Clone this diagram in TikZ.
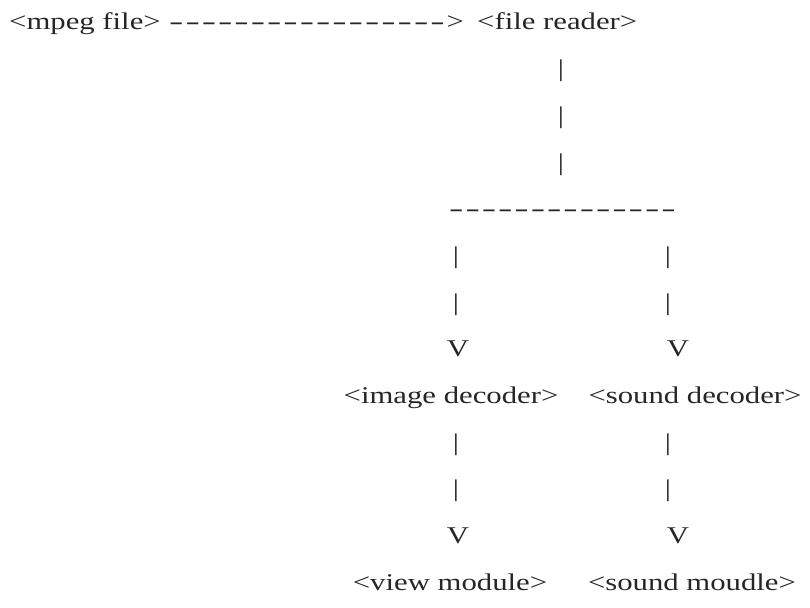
\documentclass[tikz,border=0pt]{standalone}
\usepackage{fontspec}
\setmainfont{Liberation Serif}[FakeStretch=1.28]
\usetikzlibrary{positioning}

% a row of ascii dashes, one char at a time so no ligatures
\newcommand{\dashrow}[1]{\foreach \d in {1,...,#1}{\scalebox{1.4}[1]{-}\hspace{2pt}}}

\begin{document}
\begin{tikzpicture}[x=1pt,y=-1pt,font=\fontsize{24}{24}\selectfont,a/.style={inner sep=0pt,anchor=base,text=black!85},w/.style={a,anchor=base west}]
\useasboundingbox (0,0) rectangle (810,607);
% top line
\node[w] (mpeg) at (9,30.0) {<mpeg file>};
\node[w] (arr) at (169,30.0) {\dashrow{17}>};
\node[w] (reader) at (477,30.0) {<file reader>};
\node[a] (p1) at (561,76.7) {|};
\node[a] (p2) at (561,123.3) {|};
\node[a] (p3) at (561,170.0) {|};
\node[w] (split) at (449,216.7) {\dashrow{14}};
% left branch
\node[a] (l1) at (456,263.3) {|};
\node[a] (l2) at (456,310.0) {|};
\node[a] (lv1) at (458,356.7) {V};
\node[a] (img) at (451,403.3) {<image decoder>};
\node[a] (l3) at (456,450.0) {|};
\node[a] (l4) at (456,496.7) {|};
\node[a] (lv2) at (458,543.3) {V};
\node[a] (view) at (450,590.0) {<view module>};
% right branch
\node[a] (r1) at (668,263.3) {|};
\node[a] (r2) at (668,310.0) {|};
\node[a] (rv1) at (678,356.7) {V};
\node[a] (snd) at (695,403.3) {<sound decoder>};
\node[a] (r3) at (668,450.0) {|};
\node[a] (r4) at (668,496.7) {|};
\node[a] (rv2) at (678,543.3) {V};
\node[a] (sndm) at (692,590.0) {<sound moudle>};
\end{tikzpicture}
\end{document}
